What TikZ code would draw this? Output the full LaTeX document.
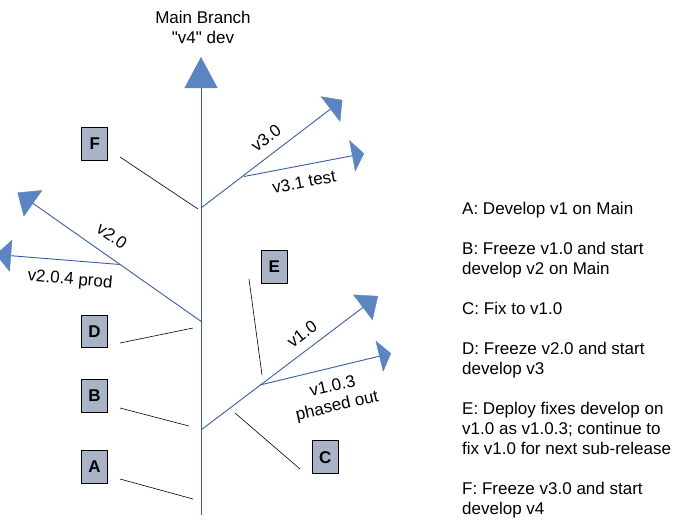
\documentclass[tikz,border=0pt]{standalone}
\usepackage{fontspec}
\setmainfont{Liberation Sans}
\newfontfamily\straightq{Liberation Sans}
\usetikzlibrary{arrows.meta}
\definecolor{branchblue}{RGB}{56,94,166}
\definecolor{tipblue}{RGB}{90,132,194}
\definecolor{boxfill}{RGB}{168,180,197}
\begin{document}
\begin{tikzpicture}[x=1pt,y=-1pt,
  font=\fontsize{17}{20}\selectfont,
  branch/.style={draw=branchblue, line width=0.9pt},
  brtip/.style={-{Triangle[width=32pt,length=#1,color=tipblue,line width=0.4pt]}},
  marker/.style={draw=black, line width=0.8pt, fill=boxfill, minimum width=26pt,
    minimum height=32.7pt, inner sep=0pt, font=\fontsize{17}{20}\selectfont\bfseries},
  pointer/.style={draw=black, line width=0.6pt},
  lbl/.style={inner sep=0pt},
  note/.style={inner sep=0pt, anchor=base west}]
\useasboundingbox (0,0) rectangle (700,522);
\fill[white] (0,0) rectangle (700,522);

% trunk and branches
\coordinate (t0) at (201,515);
\coordinate (ttop) at (201,57);
\coordinate (j3) at (201,208);
\coordinate (v3tip) at (342.3,100);
\coordinate (j31) at (244,176.5);
\coordinate (v31tip) at (364,153.5);
\coordinate (j2) at (202,322);
\coordinate (v2tip) at (17.5,192.5);
\coordinate (j24) at (120,264.5);
\coordinate (v24tip) at (-4,254.5);
\coordinate (j1) at (201,430);
\coordinate (v1tip) at (378,296);
\coordinate (j13) at (260,385);
\coordinate (v13tip) at (391,353.4);

\draw[branch, -{Triangle[width=33pt,length=31pt,color=tipblue,line width=0.4pt]}] (t0) -- (ttop);
\draw[branch, brtip=15pt] (j3) -- (v3tip);
\draw[branch, brtip=12pt] (j31) -- (v31tip);
\draw[branch, brtip=19pt] (j2) -- (v2tip);
\draw[branch, brtip=15pt] (j24) -- (v24tip);
\draw[branch, brtip=19pt] (j1) -- (v1tip);
\draw[branch, brtip=12pt] (j13) -- (v13tip);

% title
\node[lbl] (title1) at (203,17) {Main Branch};
\node[lbl, font=\fontsize{17}{20}\straightq] (title2) at (203,37) {"v4" dev};

% branch labels
\node[lbl, rotate=37] (l30) at (266,138) {v3.0};
\node[lbl, rotate=11] (l31) at (304,182) {v3.1 test};
\node[lbl, rotate=-35] (l20) at (112,236) {v2.0};
\node[lbl, rotate=-5] (l204) at (70,280) {v2.0.4 prod};
\node[lbl, rotate=37] (l10) at (302,334) {v1.0};
\node[lbl, rotate=13, align=center] (l103) at (335,397) {v1.0.3\\phased out};

% markers
\node[marker] (F) at (94.7,143.7) {F};
\node[marker] (D) at (94.5,331.5) {D};
\node[marker] (B) at (94.5,395.8) {B};
\node[marker] (A) at (94.5,466.8) {A};
\node[marker] (E) at (274.2,267) {E};
\node[marker] (C) at (325.3,457.2) {C};

% pointer lines
\coordinate (pF1) at (120,157);  \coordinate (pF2) at (198,209);
\coordinate (pD1) at (120,343);  \coordinate (pD2) at (193,328);
\coordinate (pB1) at (120,408);  \coordinate (pB2) at (189,426);
\coordinate (pA1) at (120,479);  \coordinate (pA2) at (193,499);
\coordinate (pE1) at (249,279);  \coordinate (pE2) at (262,375);
\coordinate (pC1) at (235,413);  \coordinate (pC2) at (300,469);
\draw[pointer] (pF1) -- (pF2);
\draw[pointer] (pD1) -- (pD2);
\draw[pointer] (pB1) -- (pB2);
\draw[pointer] (pA1) -- (pA2);
\draw[pointer] (pE1) -- (pE2);
\draw[pointer] (pC1) -- (pC2);

% legend
\node[note] (nA) at (462,214) {A: Develop v1 on Main};
\node[note] (nB1) at (462,254) {B: Freeze v1.0 and start};
\node[note] (nB2) at (462,274) {develop v2 on Main};
\node[note] (nC) at (462,314) {C: Fix to v1.0};
\node[note] (nD1) at (462,354) {D: Freeze v2.0 and start};
\node[note] (nD2) at (462,374) {develop v3};
\node[note] (nE1) at (462,414) {E: Deploy fixes develop on};
\node[note] (nE2) at (462,434) {v1.0 as v1.0.3; continue to};
\node[note] (nE3) at (462,454) {fix v1.0 for next sub-release};
\node[note] (nF1) at (462,494) {F: Freeze v3.0 and start};
\node[note] (nF2) at (462,514) {develop v4};
\end{tikzpicture}
\end{document}
